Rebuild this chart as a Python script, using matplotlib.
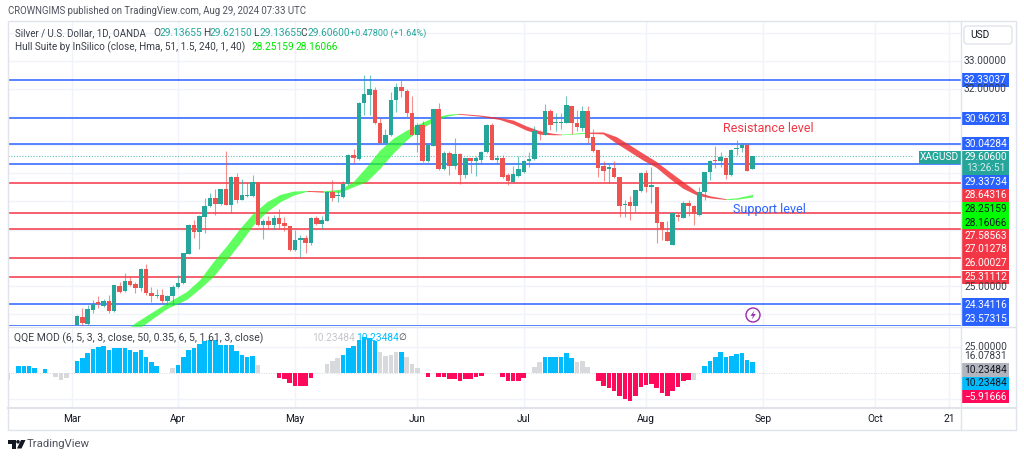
import matplotlib
matplotlib.use("Agg")
import matplotlib.pyplot as plt
from matplotlib.patches import Rectangle, FancyBboxPatch, Circle, Polygon

plt.rcParams['font.family'] = ['Roboto', 'DejaVu Sans']

# daily candles, one per bar
opens = [23.61, 23.91, 23.65, 24.14, 24.44, 24.30, 24.46, 24.11, 25.01, 24.81,
         25.19, 25.06, 24.91, 25.59, 24.76, 24.64, 24.68, 24.46, 24.64, 24.95,
         25.09, 26.13, 27.16, 26.90, 27.46, 27.84, 28.13, 27.90, 28.43, 27.87,
         28.88, 28.06, 28.20, 28.20, 28.68, 27.16, 27.32, 27.16, 27.43, 27.23,
         27.14, 26.27, 26.62, 26.69, 26.54, 27.43, 27.20, 27.32, 28.33, 28.18,
         28.17, 28.62, 29.64, 29.52, 31.48, 31.79, 31.97, 30.77, 30.06, 30.35,
         31.60, 32.07, 31.93, 31.15, 30.36, 30.72, 29.43, 29.98, 31.28, 29.14,
         29.73, 29.26, 29.69, 28.94, 29.53, 29.45, 29.47, 29.74, 30.72, 29.49,
         29.55, 28.94, 28.70, 28.91, 29.06, 29.42, 29.51, 30.48, 30.37, 31.21,
         30.77, 30.80, 30.80, 31.38, 30.80, 30.61, 31.22, 30.30, 29.83, 29.26,
         29.14, 29.19, 28.88, 27.87, 27.99, 27.84, 28.37, 29.00, 28.50, 28.50,
         27.26, 26.93, 26.46, 27.51, 27.43, 27.94, 27.85, 27.52, 28.32, 29.03,
         29.47, 29.44, 29.53, 28.94, 29.85, 29.89, 30.00, 29.14]
closes = [23.93, 23.67, 24.17, 24.35, 24.36, 24.46, 24.11, 25.02, 24.80, 25.19,
          25.03, 24.91, 25.59, 24.74, 24.65, 24.69, 24.45, 24.64, 24.97, 25.09,
          26.16, 27.17, 26.90, 27.48, 27.85, 28.14, 27.90, 28.43, 27.87, 28.88,
          28.05, 28.23, 28.23, 28.68, 27.16, 27.32, 27.16, 27.43, 27.20, 27.13,
          26.27, 26.63, 26.69, 26.54, 27.43, 27.20, 27.34, 28.35, 28.14, 28.20,
          28.62, 29.65, 29.54, 31.48, 31.80, 31.98, 30.77, 30.06, 30.35, 31.62,
          32.07, 31.93, 31.13, 30.36, 30.72, 29.43, 30.00, 31.30, 29.14, 29.73,
          29.26, 29.68, 28.94, 29.53, 29.42, 29.53, 29.77, 30.72, 29.49, 29.55,
          28.88, 28.74, 28.97, 29.14, 29.45, 29.51, 30.50, 30.39, 31.21, 30.72,
          30.80, 30.82, 31.42, 30.77, 30.63, 31.22, 30.27, 29.79, 29.20, 29.10,
          29.21, 28.87, 27.84, 27.91, 27.84, 28.39, 29.00, 28.50, 28.58, 27.23,
          26.97, 26.60, 27.58, 27.44, 27.94, 27.84, 27.55, 28.34, 29.03, 29.45,
          29.42, 29.59, 28.95, 29.83, 29.88, 30.00, 29.10, 29.61]
highs = [23.97, 24.20, 24.32, 24.50, 24.64, 24.52, 24.68, 25.02, 25.15, 25.45,
         25.30, 25.15, 25.62, 25.78, 24.95, 24.88, 24.88, 24.68, 25.03, 25.39,
         26.18, 27.20, 27.34, 27.52, 28.11, 28.31, 28.46, 28.46, 29.79, 28.90,
         29.02, 28.80, 28.70, 28.94, 28.70, 27.36, 27.48, 27.52, 27.72, 27.46,
         27.14, 26.98, 26.81, 26.81, 27.46, 27.48, 27.48, 28.37, 28.76, 28.38,
         28.74, 29.67, 29.85, 31.54, 32.49, 32.49, 32.05, 30.98, 30.59, 31.90,
         32.22, 32.31, 31.98, 31.74, 30.80, 30.87, 30.00, 31.30, 31.51, 29.80,
         29.80, 30.24, 29.71, 29.56, 29.56, 29.61, 29.80, 30.75, 30.77, 29.65,
         29.65, 29.00, 29.26, 29.61, 29.49, 29.77, 30.68, 30.53, 31.45, 31.30,
         31.13, 31.15, 31.74, 31.40, 31.24, 31.39, 31.39, 30.56, 29.83, 29.42,
         29.36, 29.45, 28.88, 28.05, 28.20, 28.41, 29.05, 29.12, 29.21, 28.53,
         27.26, 27.29, 27.58, 27.64, 28.03, 28.05, 27.88, 28.50, 29.03, 29.47,
         29.97, 29.74, 29.56, 29.85, 30.18, 30.09, 30.09, 29.62]
lows = [23.59, 23.63, 23.61, 24.05, 24.20, 24.26, 24.05, 24.09, 24.76, 24.80,
        25.00, 24.74, 24.83, 24.68, 24.44, 24.57, 24.38, 24.32, 24.32, 24.91,
        25.07, 26.12, 26.69, 26.30, 26.87, 27.79, 27.52, 27.87, 27.87, 27.58,
        27.96, 28.05, 28.17, 28.17, 27.14, 26.67, 27.04, 27.01, 27.04, 26.96,
        26.25, 26.25, 26.04, 26.18, 26.45, 27.16, 27.02, 27.30, 28.03, 27.99,
        28.11, 28.58, 29.35, 29.49, 31.07, 31.07, 30.75, 30.06, 30.06, 30.32,
        31.19, 31.72, 31.01, 30.36, 29.77, 29.41, 29.41, 29.97, 29.11, 29.11,
        28.94, 29.17, 28.62, 28.82, 29.00, 28.91, 29.35, 29.73, 29.47, 29.35,
        28.85, 28.58, 28.68, 28.88, 29.02, 29.21, 29.49, 30.18, 30.35, 30.53,
        30.50, 30.59, 30.77, 30.39, 30.51, 30.50, 30.06, 29.77, 28.88, 28.74,
        28.65, 28.85, 27.44, 27.46, 27.34, 27.64, 28.35, 28.35, 27.96, 26.52,
        26.63, 26.58, 26.46, 27.29, 27.40, 27.49, 27.17, 27.50, 28.05, 28.76,
        29.18, 29.21, 28.79, 28.92, 29.65, 29.74, 29.07, 29.14]

# horizontal levels drawn on the chart
blue_levels = [32.33037, 30.96213, 30.04284, 29.33734, 24.34116, 23.57315]
red_levels = [28.64316, 27.58563, 27.01278, 26.00027, 25.31112]
last_price = 29.606

# hull band outline, vertices at bar positions
hull_bar = [9, 10.6, 12.5, 16.9, 20.6, 23.1, 25.6, 28.1, 30.6, 33.1, 35.7, 38.2, 40.7, 43.2, 46.3, 49.4,
            51.9, 54.4, 56.9, 59.4, 61.9, 64.4, 66.9, 69.5, 71.6, 75.7, 79.5, 82, 84.5, 87, 89.5, 91.1,
            95.8, 98.9, 101.4, 103.9, 106.4, 108.9, 111.4, 113.9, 116.5, 119, 122, 124, 127]
hull_top = [23.35, 23.65, 23.88, 24.40, 24.80, 25.23, 25.86, 26.42, 27.04, 27.58, 27.99, 28.25, 28.37, 28.39, 28.38, 28.43,
            28.70, 29.23, 29.82, 30.24, 30.53, 30.77, 30.98, 31.09, 31.13, 31.07, 30.98, 30.89, 30.68, 30.51, 30.42, 30.39,
            30.46, 30.47, 30.30, 30.01, 29.71, 29.42, 29.06, 28.71, 28.35, 28.20, 28.10, 28.13, 28.25]
hull_bot = [23.20, 23.40, 23.61, 24.20, 24.52, 24.91, 25.33, 25.92, 26.51, 27.16, 27.64, 27.99, 28.23, 28.36, 28.33, 28.32,
            28.52, 28.70, 29.17, 29.71, 30.18, 30.56, 30.83, 31.03, 31.10, 31.03, 30.91, 30.75, 30.53, 30.39, 30.37, 30.37,
            30.42, 30.40, 30.07, 29.77, 29.47, 29.21, 28.82, 28.47, 28.23, 28.13, 28.07, 28.08, 28.16]
hull_turns = [9, 43.2, 46.3, 71.6, 91.1, 95.8, 122, 127]
hull_rising = [True, False, True, False, True, False, True]

# QQE histogram, first value is bar -13, '.' means nothing drawn
qqe_vals = [-7, 0, 6.4, 6.4, 6.4, 4.8, 0, 3.2, 0, -4.5, -7, -4.8, 0,
            11, 13.8, 18.6, 23, 25, 26, 22, 24, 23.5, 24,
            22, 20, 22, 15, 10, 6, 0, 0, 4, 7.4,
            14.7, 22, 24, 27.5, 30, 31, 31.5, 26.5, 26.5, 26.5,
            21, 17, 15.4, 16.3, 7.4, 0, 0, 0, -4.8, -6.4,
            -10, -12.8, -12.8, -12.8, -5.4, 0, 0, 8, 11.5, 14.4,
            17, 23.4, 26, 31.4, 34.5, 33, 30, 20, 16, 17,
            19.5, 19.5, 14.7, 8, 4.8, 0, -4.5, 0, -4.5, -4.5,
            -6.4, -6, -8, -6, -6, -4.5, -3.8, 0, 0, 0,
            -4.5, -8, -8.6, -8, -4.8, 0, 5.8, 10, 15.4, 15.4,
            15.4, 15.4, 18.6, 13.8, 10, 11.5, 5, 0, -8, -12.8,
            -14.4, -17.6, -23, -25.3, -27.8, -23, -14, -11.8, -10.6, -15,
            -19.8, -23, -17.3, -14, -8.6, -7, -7, 0, 6.4, 11.5,
            15.4, 19.5, 14.7, 16.3, 18, 18.6, 12, 10.2]
qqe_kinds = ("g.bbbb.b.ggg."
             "bbbbbbbbbb"
             "bbbbbb..gb"
             "bbbbbbbbbb"
             "bbbbg...rr"
             "rrrrr..ggg"
             "bbbbbbbggg"
             "gbggg.r.rr"
             "rrrrrrr..."
             "rrrrr.ggbb"
             "bbbbggg.rr"
             "rrrrrrrrrr"
             "rrrrrrg.bb"
             "bbbbbbbb")

month_bars = [-1, 19, 41, 64, 84, 107, 129, 150, 164]
month_labels = ["Mar", "Apr", "May", "Jun", "Jul", "Aug", "Sep", "Oct", "21"]

TEAL = "#26a69a"
RED = "#ef5350"
BLUE = "#2962ff"
LINE_RED = "#f23645"
GRID = "#f0f3fa"
BORDER = "#e0e3eb"
DARK = "#3a3e48"
W, H = 1024, 458


def px_axes(x0, y0, x1, y1):
    return fig.add_axes([x0 / W, 1 - y1 / H, (x1 - x0) / W, (y1 - y0) / H])


fig = plt.figure(figsize=(W / 100, H / 100), dpi=100, facecolor="white")

# price panel
ax = px_axes(8, 21, 961, 326)
ax.set_xlim(-12.97, 166.2)
ax.set_ylim(23.577, 34.41)
for y in range(24, 35):
    ax.axhline(y, color=GRID, lw=1, zorder=0)
for b in month_bars:
    ax.axvline(b, color=GRID, lw=1, zorder=0)
for lvl in blue_levels:
    ax.axhline(lvl, color=BLUE, lw=1.1, zorder=1)
for lvl in red_levels:
    ax.axhline(lvl, color=LINE_RED, lw=1.1, zorder=1)
ax.plot([-13, 157], [last_price, last_price], color=TEAL, lw=0.8, ls=(0, (1, 1.5)), alpha=0.7, zorder=1)

for s in range(len(hull_rising)):
    idx = [i for i, b in enumerate(hull_bar) if hull_turns[s] <= b <= hull_turns[s + 1]]
    xs = [hull_bar[i] for i in idx]
    c = "#1aff1a" if hull_rising[s] else "#f0282d"
    ax.fill_between(xs, [hull_top[i] for i in idx], [hull_bot[i] for i in idx],
                    color=c, alpha=0.7 if hull_rising[s] else 0.8, lw=0, zorder=2)

for i in range(len(opens)):
    c = TEAL if closes[i] >= opens[i] else RED
    ax.vlines(i, lows[i], highs[i], color=c, lw=0.8, alpha=0.65, zorder=3)
    bottom = min(opens[i], closes[i])
    height = max(abs(closes[i] - opens[i]), 0.035)
    ax.bar(i, height, bottom=bottom, width=0.84, color=c, lw=0, zorder=4)
ax.axis("off")

# QQE panel
ax2 = px_axes(8, 327, 961, 408)
ax2.set_xlim(-12.97, 166.2)
ax2.set_ylim(-34.1, 43.8)
for b in month_bars:
    ax2.axvline(b, color=GRID, lw=1, zorder=0)
ax2.axhline(25, color=GRID, lw=1, zorder=0)
ax2.axhline(-25, color=GRID, lw=1, zorder=0)
ax2.axhline(0, color="#d5d8e0", lw=0.7, ls=(0, (1, 1.5)), zorder=0)
qqe_colors = {"b": "#00bcff", "r": "#ff0a5b", "g": "#d8d9dd"}
for i in range(len(qqe_vals)):
    if qqe_kinds[i] != ".":
        ax2.bar(i - 13, qqe_vals[i], width=0.86, color=qqe_colors[qqe_kinds[i]], lw=0, zorder=2)
ax2.axis("off")

# overlay in pixel coordinates for frame, tags and text
ov = fig.add_axes([0, 0, 1, 1], zorder=10)
ov.set_xlim(0, W)
ov.set_ylim(H, 0)
ov.axis("off")
ov.patch.set_alpha(0)

ov.add_patch(Rectangle((8, 21), 1008, 409, fill=False, ec=BORDER, lw=1))
ov.plot([961, 961], [21, 430], color=BORDER, lw=1)
ov.plot([8, 1016], [326.5, 326.5], color=BORDER, lw=1)
ov.plot([8, 1016], [408, 408], color=BORDER, lw=1.5)

FS = 7.3


def txt(x, y, s, color=DARK, size=FS, ha="left", **kw):
    ov.text(x, y, s, color=color, fontsize=size, ha=ha, va="center", **kw)


txt(8, 11.5, "CROWNGIMS published on TradingView.com, Aug 29, 2024 07:33 UTC", color="#50535e", size=6.9)
txt(15, 33, "Silver / U.S. Dollar, 1D, OANDA", size=7.05)
for x, s in [(153, "O"), (203, "H"), (253, "L"), (300, "C")]:
    txt(x, 33, s)
for x, s in [(160, "29.13655"), (209.5, "29.62150"), (259, "29.13655"), (307, "29.60600")]:
    txt(x, 33, s, color=TEAL)
txt(350, 33, "+0.47800 (+1.64%)", color=TEAL, size=6.6)
txt(15, 47, "Hull Suite by InSilico (close, Hma, 51, 1.5, 240, 1, 40)", size=7.2)
txt(252, 47, "28.25159", color="#00e600")
txt(295, 47, "28.16066", color="#00e600")
txt(14, 338, "QQE MOD (6, 5, 3, 3, close, 50, 0.35, 6, 5, 1.61, 3, close)", size=7.5)
txt(312, 338, "10.23484", color="#c4c6cc")
txt(356, 338, "10.23484", color="#00bcff")
txt(398, 338, "\u2205", color=DARK, size=6.5)

txt(723, 128, "Resistance level", color=LINE_RED, size=9)
txt(733, 210, "Support level", color=BLUE, size=9)

# price axis labels and tags
txt(985.5, 61.5, "33.00000", ha="center")
txt(985.5, 89.5, "32.00000", ha="center")
txt(985.5, 286.5, "25.00000", ha="center")
txt(985.5, 346.5, "25.00000", ha="center")
txt(985.5, 356, "16.07831", ha="center")

ov.add_patch(FancyBboxPatch((964, 26), 48, 18, boxstyle="round,pad=0,rounding_size=3", fc="white", ec=BORDER, lw=1))
txt(970, 35, "USD", color="#131722")

tag_rows = [(80, "32.33037", BLUE, "white"), (118.7, "30.96213", BLUE, "white"), (143.7, "30.04284", BLUE, "white"),
            (182, "29.33734", BLUE, "white"), (195.5, "28.64316", LINE_RED, "white"),
            (209, "28.25159", "#00ff00", "#131722"), (222.5, "28.16066", "#00ff00", "#131722"),
            (236, "27.58563", LINE_RED, "white"), (249.5, "27.01278", LINE_RED, "white"), (263, "26.00027", LINE_RED, "white"),
            (277.5, "25.31112", LINE_RED, "white"), (305, "24.34116", BLUE, "white"), (319, "23.57315", BLUE, "white"),
            (370, "10.23484", "#b2b5be", "#131722"), (383.3, "10.23484", "#00bcff", "#131722"), (396.7, "\u22125.91666", "#ff0a5b", "white")]
for y, s, bg, fg in tag_rows:
    ov.add_patch(Rectangle((961, y - 6.7), 47.5, 13.4, fc=bg, ec="none"))
    txt(985.5, y, s, color=fg, ha="center")

ov.add_patch(Rectangle((961, 150.7), 47.5, 24.3, fc=TEAL, ec="none"))
txt(985.5, 157.3, "29.60600", color="white", ha="center")
txt(985.5, 168.3, "13:26:51", color="#d3eeeb", ha="center")
ov.add_patch(Rectangle((919, 150.7), 41.5, 13.4, fc=TEAL, ec="none"))
txt(939.7, 157.3, "XAGUSD", color="white", ha="center")

# date axis
for b, s in zip(month_bars, month_labels):
    x = 77 + 5.32 * b
    txt(x, 418.7, s, color="#131722", ha="center", size=7.3)

# replay icon
ov.add_patch(Circle((753, 315), 7, fc="white", ec="#9c27b0", lw=1))
ov.add_patch(Polygon([(754.5, 310.5), (750.5, 315.8), (753, 315.8), (751.8, 319.5), (755.8, 314), (753.2, 314)],
                     closed=True, fc="#9c27b0", ec="none"))

# TradingView logo
ov.add_patch(Polygon([(8, 440), (15.5, 440), (15.5, 448.5), (12, 448.5), (12, 443.5), (8, 443.5)], closed=True, fc="#131722", ec="none"))
ov.add_patch(Circle((18, 441.8), 1.8, fc="#131722", ec="none"))
ov.add_patch(Polygon([(21, 440), (25.5, 440), (21.5, 448.5), (17, 448.5)], closed=True, fc="#131722", ec="none"))
txt(27, 444, "TradingView", color="#50535e", size=8.2)

fig.savefig("out.png", dpi=100, facecolor="white")
